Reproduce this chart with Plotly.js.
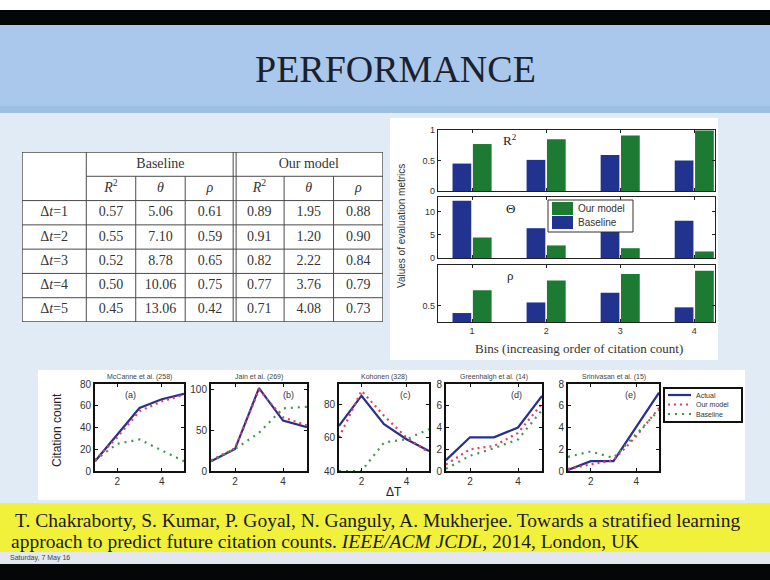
<!DOCTYPE html>
<html>
<head>
<meta charset="utf-8">
<script src="https://cdn.plot.ly/plotly-3.0.1.min.js"></script>
<style>
  html, body { margin: 0; padding: 0; background: #ffffff; }
  #chart { width: 770px; height: 580px; }
</style>
</head>
<body>
<div id="chart"></div>
<script>
// ---------- Table: Baseline vs. our model for each prediction horizon ----------
const tableRows = ["Δ<i>t</i>=1", "Δ<i>t</i>=2", "Δ<i>t</i>=3", "Δ<i>t</i>=4", "Δ<i>t</i>=5"];
const groupNames = ["Baseline", "Our model"];
const metricNames = ["<i>R</i><sup>2</sup>", "<i>θ</i>", "<i>ρ</i>"];
const baselineR2    = [0.57, 0.55, 0.52, 0.50, 0.45];
const baselineTheta = [5.06, 7.10, 8.78, 10.06, 13.06];
const baselineRho   = [0.61, 0.59, 0.65, 0.75, 0.42];
const modelR2       = [0.89, 0.91, 0.82, 0.77, 0.71];
const modelTheta    = [1.95, 1.20, 2.22, 3.76, 4.08];
const modelRho      = [0.88, 0.90, 0.84, 0.79, 0.73];

// ---------- Bar charts: metrics per citation bin ----------
const bins = [1, 2, 3, 4];
const r2Baseline    = [0.45, 0.51, 0.59, 0.50];
const r2Model       = [0.77, 0.85, 0.91, 0.99];
const thetaBaseline = [12.3, 6.4, 5.6, 8.0];
const thetaModel    = [4.4, 2.7, 2.1, 1.4];
const rhoBaseline   = [0.41, 0.54, 0.66, 0.48];
const rhoModel      = [0.69, 0.81, 0.89, 0.93];
const barSeries = ["Our model", "Baseline"];

// ---------- Line charts: citation count vs. ΔT for five papers ----------
const deltaT = [1, 2, 3, 4, 5];
const paperTitles = ["McCanne et al. (258)", "Jain et al. (269)", "Kohonen (328)", "Greenhalgh et al. (14)", "Srinivasan et al. (15)"];
const panelTags = ["(a)", "(b)", "(c)", "(d)", "(e)"];
const lineSeries = ["Actual", "Our model", "Baseline"];
const actualA = [9, 33, 58, 66, 71];
const modelA  = [10, 31, 55, 64, 70];
const baseA   = [10, 25, 29, 19, 9];
const actualB = [12, 27, 102, 62, 54];
const modelB  = [13, 28, 100, 66, 56];
const baseB   = [12, 27, 47, 77, 79];
const actualC = [67, 85, 68, 59, 52];
const modelC  = [60, 88, 73, 60, 51];
const baseC   = [40, 40, 57, 59, 65];
const actualD = [1.0, 3.1, 3.1, 4.0, 6.9];
const modelD  = [0.6, 2.0, 2.3, 3.5, 6.2];
const baseD   = [0.2, 1.4, 2.1, 2.9, 5.6];
const actualE = [0.1, 0.9, 0.9, 4.0, 7.2];
const modelE  = [0.2, 0.6, 1.0, 3.2, 5.8];
const baseE   = [1.3, 1.8, 1.2, 3.4, 5.6];

// ---------- helpers ----------
const W = 770, H = 580;
const px = (a, b) => [a / W, b / W];
const py = (top, bottom) => [1 - bottom / H, 1 - top / H];
const BLUE = "#22328f", GREEN = "#1c7a33";
const SANS = "Liberation Sans, Arial, sans-serif";
const SERIF = "Liberation Serif, Times New Roman, serif";
const axKey = (c, n) => (n === 1 ? c + "axis" : c + "axis" + n);
const axRef = (c, n) => (n === 1 ? c : c + n);

const traces = [];
const layout = {
  width: W, height: H,
  margin: { l: 0, r: 0, t: 0, b: 0 },
  paper_bgcolor: "#e1ebf6",
  plot_bgcolor: "rgba(0,0,0,0)",
  barmode: "group", bargap: 0.45, bargroupgap: 0.08,
  showlegend: false,
  shapes: [], annotations: []
};

// slide backdrop and white panels
const box = (x0, x1, y0, y1, color, line, layer) => layout.shapes.push({
  type: "rect", xref: "paper", yref: "paper", layer: layer || "below",
  x0: x0 / W, x1: x1 / W, y0: 1 - y1 / H, y1: 1 - y0 / H,
  fillcolor: color, line: line || { width: 0 }
});
const seg = (x0, x1, y, style) => layout.shapes.push({
  type: "line", xref: "paper", yref: "paper", layer: "above",
  x0: x0 / W, x1: x1 / W, y0: 1 - y / H, y1: 1 - y / H, line: style
});
box(0, W, 0, 10, "#ffffff");
box(0, W, 10, 25, "#050608");
box(0, W, 25, 108, "#a9c8eb");
box(0, W, 106, 113, "#9ebee2");
box(0, W, 503, 552, "#f1f13c");
box(0, W, 552, 564, "#e3e8ee");
box(0, W, 564, H, "#050608");
box(390, 718, 118, 360, "#ffffff");
box(38, 745, 370, 500, "#ffffff");

const note = (text, x, y, opts) => layout.annotations.push(Object.assign({
  text: text, xref: "paper", yref: "paper", x: x / W, y: 1 - y / H,
  showarrow: false, xanchor: "center", yanchor: "middle"
}, opts || {}));

note("PERFORMANCE", 395, 69, { font: { family: SERIF, size: 38, color: "#1d1f2c" } });

// ---------- bar chart panels ----------
const barPanels = [
  { base: r2Baseline, model: r2Model, range: [0, 1], ticks: [0, 0.5, 1], labels: ["0", "0.5", "1"], top: 130, bottom: 191, label: "R<sup>2</sup>", ly: 140 },
  { base: thetaBaseline, model: thetaModel, range: [0, 13.1], ticks: [0, 5, 10], labels: ["0", "5", "10"], top: 197, bottom: 258, label: "Θ", ly: 208 },
  { base: rhoBaseline, model: rhoModel, range: [0.3, 1], ticks: [0.5, 1], labels: ["0.5", ""], top: 265, bottom: 322, label: "ρ", ly: 275 }
];
barPanels.forEach((p, i) => {
  const n = i + 1;
  traces.push({ type: "bar", x: bins, y: p.base, xaxis: axRef("x", n), yaxis: axRef("y", n),
    name: barSeries[1], marker: { color: BLUE, line: { width: 0 } } });
  traces.push({ type: "bar", x: bins, y: p.model, xaxis: axRef("x", n), yaxis: axRef("y", n),
    name: barSeries[0], marker: { color: GREEN, line: { width: 0 } } });
  layout[axKey("x", n)] = {
    domain: px(438, 715), range: [0.54, 4.28], anchor: axRef("y", n),
    tickvals: bins, showticklabels: i === 2, ticks: "inside", ticklen: 3, tickcolor: "#222",
    mirror: "allticks", showline: true, linecolor: "#222", linewidth: 1.2,
    showgrid: false, zeroline: false, tickfont: { family: SANS, size: 9, color: "#333" }
  };
  layout[axKey("y", n)] = {
    domain: py(p.top, p.bottom), range: p.range, anchor: axRef("x", n),
    tickvals: p.ticks, ticktext: p.labels, ticks: "inside", ticklen: 3, tickcolor: "#222",
    mirror: "allticks", showline: true, linecolor: "#222", linewidth: 1.2,
    showgrid: false, zeroline: false, tickfont: { family: SANS, size: 9, color: "#333" }
  };
  note(p.label, 510, p.ly, { font: { family: SERIF, size: 13, color: "#222" } });
});
note("Values of evaluation metrics", 401, 226, { textangle: -90, font: { family: SANS, size: 10, color: "#333" } });
note("Bins (increasing order of citation count)", 579, 348, { font: { family: SERIF, size: 13, color: "#333" } });

// key for the bar panels
box(548, 633, 200, 232, "#ffffff", { color: "#333", width: 1 }, "above");
box(552, 573, 202, 215, GREEN, { width: 0 }, "above");
box(552, 573, 216, 229, BLUE, { width: 0 }, "above");
note(barSeries[0], 576, 208.5, { xanchor: "left", font: { family: SANS, size: 10, color: "#333" } });
note(barSeries[1], 576, 222.5, { xanchor: "left", font: { family: SANS, size: 10, color: "#333" } });

// ---------- line chart panels ----------
const lineStyles = [
  { color: "#2b2f8c", width: 2.2 },
  { color: "#e0405a", width: 2.2, dash: "2px,4px" },
  { color: "#3c9a48", width: 2.2, dash: "2px,5px" }
];
const linePanels = [
  { series: [actualA, modelA, baseA], x0: 95, x1: 184, range: [0, 80], ticks: [0, 20, 40, 60, 80], tagX: 130 },
  { series: [actualB, modelB, baseB], x0: 211, x1: 307, range: [0, 107], ticks: [0, 50, 100], tagX: 288 },
  { series: [actualC, modelC, baseC], x0: 339, x1: 429, range: [40, 92], ticks: [40, 60, 80], tagX: 405 },
  { series: [actualD, modelD, baseD], x0: 446, x1: 542, range: [0, 8], ticks: [0, 2, 4, 6, 8], tagX: 516 },
  { series: [actualE, modelE, baseE], x0: 568, x1: 659, range: [0, 8], ticks: [0, 2, 4, 6, 8], tagX: 630 }
];
linePanels.forEach((p, i) => {
  const n = i + 4;
  const xa = axRef("x", n), ya = axRef("y", n);
  p.series.forEach((vals, s) => traces.push({ type: "scatter", mode: "lines", x: deltaT, y: vals,
    xaxis: xa, yaxis: ya, name: lineSeries[s], line: lineStyles[s] }));
  layout[axKey("x", n)] = {
    domain: px(p.x0, p.x1), range: [1, 5], anchor: ya,
    tickvals: [2, 4], ticks: "inside", ticklen: 3, tickcolor: "#111",
    mirror: "allticks", showline: true, linecolor: "#111", linewidth: 2,
    showgrid: false, zeroline: false, tickfont: { family: SANS, size: 10, color: "#333" }
  };
  layout[axKey("y", n)] = {
    domain: py(384, 471), range: p.range, anchor: xa,
    tickvals: p.ticks, ticks: "inside", ticklen: 3, tickcolor: "#111",
    mirror: "allticks", showline: true, linecolor: "#111", linewidth: 2,
    showgrid: false, zeroline: false, tickfont: { family: SANS, size: 10, color: "#333" }
  };
  note(paperTitles[i], (p.x0 + p.x1) / 2, 377, { font: { family: SANS, size: 7, color: "#444" } });
  note(panelTags[i], p.tagX, 395, { font: { family: SANS, size: 9, color: "#333" } });
});
note("Citation count", 57, 430, { textangle: -90, font: { family: SANS, size: 12, color: "#222" } });
note("ΔT", 394, 492, { font: { family: SANS, size: 12, color: "#222" } });

// key for the line panels
box(664, 742, 388, 422, "#ffffff", { color: "#111", width: 2 }, "above");
lineSeries.forEach((name, s) => {
  const y = 395 + s * 9.5;
  seg(668, 691, y, lineStyles[s]);
  note(name, 694, y, { xanchor: "left", font: { family: SANS, size: 7, color: "#333" } });
});

// ---------- table (drawn on its own hidden axes; one unit per row) ----------
const colWidths = [1.3, 1, 1, 1, 1, 1, 1];
const colEdges = colWidths.reduce((acc, w) => acc.concat(acc[acc.length - 1] + w), [0]);
const colMid = k => (colEdges[k] + colEdges[k + 1]) / 2;
const nRows = tableRows.length + 2;
const tableCols = [baselineR2, baselineTheta, baselineRho, modelR2, modelTheta, modelRho];
const tx = [], ty = [], tt = [];
groupNames.forEach((g, k) => { tx.push((colEdges[1 + 3 * k] + colEdges[4 + 3 * k]) / 2); ty.push(0.5); tt.push(g); });
for (let c = 0; c < 6; c++) { tx.push(colMid(c + 1)); ty.push(1.5); tt.push(metricNames[c % 3]); }
tableRows.forEach((r, j) => {
  tx.push(colMid(0)); ty.push(j + 2.5); tt.push(r);
  tableCols.forEach((col, c) => { tx.push(colMid(c + 1)); ty.push(j + 2.5); tt.push(col[j].toFixed(2)); });
});
traces.push({ type: "scatter", mode: "text", x: tx, y: ty, text: tt, xaxis: "x9", yaxis: "y9",
  textfont: { family: SERIF, size: 14, color: "#353535" }, hoverinfo: "skip" });
const xEnd = colEdges[colEdges.length - 1];
layout.xaxis9 = { domain: px(22, 383), range: [0, xEnd], anchor: "y9", visible: false, fixedrange: true };
layout.yaxis9 = { domain: py(152, 322), range: [nRows, 0], anchor: "x9", visible: false, fixedrange: true };
const tline = (x0, y0, x1, y1, w) => layout.shapes.push({ type: "line", xref: "x9", yref: "y9",
  x0: x0, y0: y0, x1: x1, y1: y1, line: { color: "#4a4a4a", width: w || 1 } });
layout.shapes.push({ type: "rect", xref: "x9", yref: "y9", layer: "below", x0: 0, x1: xEnd, y0: 0, y1: nRows,
  fillcolor: "#ffffff", line: { width: 0 } });
for (let r = 0; r <= nRows; r++) tline(r === 1 ? colEdges[1] : 0, r, xEnd, r, r === 0 || r === nRows ? 1.4 : 1);
colEdges.forEach((e, k) => {
  const full = k === 0 || k === 1 || k === 4 || k === colEdges.length - 1;
  if (k === 4) { tline(e - 0.03, 0, e - 0.03, nRows); tline(e + 0.03, 0, e + 0.03, nRows); }
  else tline(e, full ? 0 : 1, e, nRows, k === 0 || k === colEdges.length - 1 ? 1.4 : 1);
});

// ---------- reference line at the bottom ----------
note("T. Chakraborty, S. Kumar, P. Goyal, N. Ganguly, A. Mukherjee. Towards a stratified learning", 13, 520,
  { xanchor: "left", font: { family: SERIF, size: 19.5, color: "#1a1a1a" } });
note("approach to predict future citation counts. <i>IEEE/ACM JCDL</i>, 2014, London, UK", 9, 541,
  { xanchor: "left", font: { family: SERIF, size: 19.5, color: "#1a1a1a" } });
note("Saturday, 7 May 16", 8, 558, { xanchor: "left", font: { family: SANS, size: 7, color: "#444" } });

Plotly.newPlot("chart", traces, layout, { staticPlot: true, displayModeBar: false });
</script>
</body>
</html>
